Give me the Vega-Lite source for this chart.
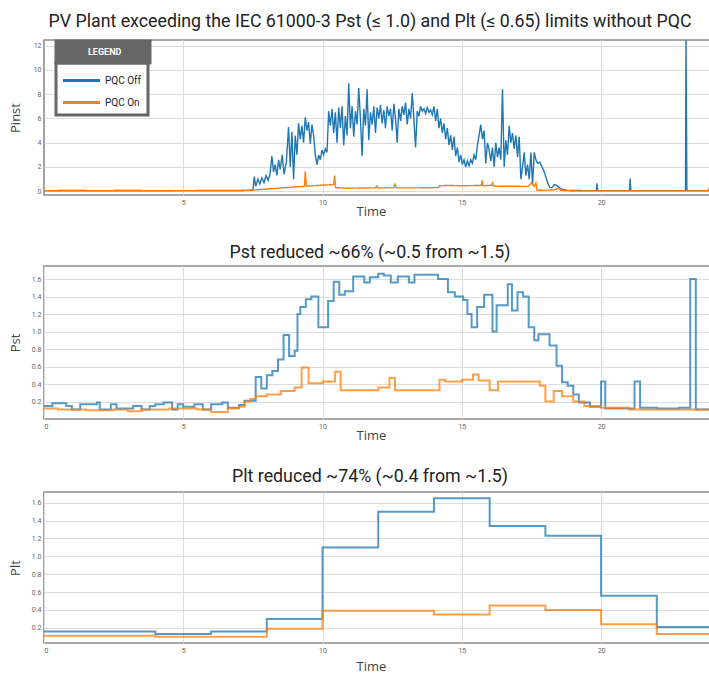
{
  "$schema": "https://vega.github.io/schema/vega-lite/v6.json",
  "padding": {"top": 12, "left": 8, "right": 0, "bottom": 0},
  "background": "white",
  "spacing": 24,
  "config": {
    "view": {"stroke": "#8c8c8c", "strokeWidth": 1.6},
    "axis": {"grid": true, "gridColor": "#dcdcdc", "gridWidth": 1, "domain": false, "ticks": false, "labelFontSize": 7, "labelColor": "#666", "labelFont": "Roboto", "labelPadding": 3, "titleFont": "Open Sans", "titleFontSize": 13, "titleFontWeight": "normal", "titleColor": "#444"},
    "axisX": {"titlePadding": 0, "titleX": 327},
    "axisY": {"titlePadding": 9},
    "title": {"font": "Roboto", "fontSize": 17.8, "fontWeight": "normal", "color": "#222", "offset": 9, "dx": -7},
    "line": {"clip": true}
  },
  "resolve": {"scale": {"color": "independent"}, "legend": {"color": "independent"}},
  "datasets": {
    "pinst": [
      {"t":0,"v":0.05,"s":"PQC Off"},{"t":1,"v":0.06,"s":"PQC Off"},{"t":2,"v":0.05,"s":"PQC Off"},{"t":3,"v":0.06,"s":"PQC Off"},{"t":4,"v":0.05,"s":"PQC Off"},{"t":5,"v":0.05,"s":"PQC Off"},{"t":6,"v":0.06,"s":"PQC Off"},{"t":7,"v":0.06,"s":"PQC Off"},{"t":7.5,"v":0.08,"s":"PQC Off"},
      {"t":7.55,"v":1.2,"s":"PQC Off"},{"t":7.6,"v":0.4,"s":"PQC Off"},{"t":7.68,"v":1.0,"s":"PQC Off"},{"t":7.75,"v":0.6,"s":"PQC Off"},{"t":7.82,"v":1.1,"s":"PQC Off"},{"t":7.9,"v":0.7,"s":"PQC Off"},{"t":7.97,"v":1.3,"s":"PQC Off"},{"t":8.05,"v":0.9,"s":"PQC Off"},{"t":8.12,"v":1.5,"s":"PQC Off"},{"t":8.18,"v":2.9,"s":"PQC Off"},{"t":8.24,"v":1.6,"s":"PQC Off"},{"t":8.3,"v":2.2,"s":"PQC Off"},{"t":8.36,"v":1.3,"s":"PQC Off"},{"t":8.42,"v":2.6,"s":"PQC Off"},{"t":8.48,"v":1.8,"s":"PQC Off"},{"t":8.55,"v":3.0,"s":"PQC Off"},{"t":8.62,"v":1.4,"s":"PQC Off"},{"t":8.7,"v":2.4,"s":"PQC Off"},{"t":8.78,"v":5.3,"s":"PQC Off"},{"t":8.84,"v":2.0,"s":"PQC Off"},{"t":8.9,"v":4.9,"s":"PQC Off"},{"t":8.96,"v":1.0,"s":"PQC Off"},{"t":9.02,"v":4.6,"s":"PQC Off"},{"t":9.08,"v":3.0,"s":"PQC Off"},{"t":9.14,"v":5.6,"s":"PQC Off"},{"t":9.2,"v":4.3,"s":"PQC Off"},{"t":9.26,"v":5.4,"s":"PQC Off"},{"t":9.32,"v":4.0,"s":"PQC Off"},{"t":9.38,"v":6.1,"s":"PQC Off"},{"t":9.44,"v":5.0,"s":"PQC Off"},{"t":9.5,"v":5.7,"s":"PQC Off"},{"t":9.56,"v":3.9,"s":"PQC Off"},{"t":9.62,"v":5.5,"s":"PQC Off"},{"t":9.68,"v":4.6,"s":"PQC Off"},{"t":9.74,"v":3.0,"s":"PQC Off"},{"t":9.8,"v":2.2,"s":"PQC Off"},{"t":9.86,"v":3.0,"s":"PQC Off"},{"t":9.92,"v":2.6,"s":"PQC Off"},{"t":9.98,"v":3.4,"s":"PQC Off"},{"t":10.04,"v":3.0,"s":"PQC Off"},{"t":10.1,"v":3.5,"s":"PQC Off"},{"t":10.16,"v":3.2,"s":"PQC Off"},{"t":10.22,"v":6.6,"s":"PQC Off"},{"t":10.28,"v":5.4,"s":"PQC Off"},{"t":10.34,"v":6.8,"s":"PQC Off"},{"t":10.4,"v":4.8,"s":"PQC Off"},{"t":10.46,"v":6.5,"s":"PQC Off"},{"t":10.52,"v":4.0,"s":"PQC Off"},{"t":10.58,"v":6.9,"s":"PQC Off"},{"t":10.64,"v":5.2,"s":"PQC Off"},{"t":10.7,"v":7.0,"s":"PQC Off"},{"t":10.76,"v":3.8,"s":"PQC Off"},{"t":10.82,"v":6.2,"s":"PQC Off"},{"t":10.88,"v":4.6,"s":"PQC Off"},{"t":10.94,"v":8.9,"s":"PQC Off"},{"t":11.0,"v":5.2,"s":"PQC Off"},{"t":11.06,"v":7.0,"s":"PQC Off"},{"t":11.12,"v":4.5,"s":"PQC Off"},{"t":11.18,"v":6.6,"s":"PQC Off"},{"t":11.24,"v":5.5,"s":"PQC Off"},{"t":11.3,"v":8.5,"s":"PQC Off"},{"t":11.36,"v":6.0,"s":"PQC Off"},{"t":11.42,"v":2.9,"s":"PQC Off"},{"t":11.48,"v":6.8,"s":"PQC Off"},{"t":11.54,"v":5.4,"s":"PQC Off"},{"t":11.6,"v":8.4,"s":"PQC Off"},{"t":11.66,"v":4.2,"s":"PQC Off"},{"t":11.72,"v":6.5,"s":"PQC Off"},{"t":11.78,"v":5.5,"s":"PQC Off"},{"t":11.84,"v":7.0,"s":"PQC Off"},{"t":11.9,"v":4.8,"s":"PQC Off"},{"t":11.96,"v":6.9,"s":"PQC Off"},{"t":12.02,"v":6.0,"s":"PQC Off"},{"t":12.08,"v":7.1,"s":"PQC Off"},{"t":12.14,"v":5.6,"s":"PQC Off"},{"t":12.2,"v":6.7,"s":"PQC Off"},{"t":12.26,"v":5.2,"s":"PQC Off"},{"t":12.32,"v":7.0,"s":"PQC Off"},{"t":12.38,"v":6.2,"s":"PQC Off"},{"t":12.44,"v":6.8,"s":"PQC Off"},{"t":12.5,"v":5.0,"s":"PQC Off"},{"t":12.56,"v":7.2,"s":"PQC Off"},{"t":12.62,"v":6.0,"s":"PQC Off"},{"t":12.68,"v":4.0,"s":"PQC Off"},{"t":12.74,"v":6.8,"s":"PQC Off"},{"t":12.8,"v":5.8,"s":"PQC Off"},{"t":12.86,"v":7.0,"s":"PQC Off"},{"t":12.92,"v":6.3,"s":"PQC Off"},{"t":12.98,"v":7.3,"s":"PQC Off"},{"t":13.04,"v":5.5,"s":"PQC Off"},{"t":13.1,"v":6.8,"s":"PQC Off"},{"t":13.16,"v":6.0,"s":"PQC Off"},{"t":13.22,"v":8.1,"s":"PQC Off"},{"t":13.28,"v":5.9,"s":"PQC Off"},{"t":13.34,"v":3.6,"s":"PQC Off"},{"t":13.4,"v":6.6,"s":"PQC Off"},{"t":13.46,"v":6.2,"s":"PQC Off"},{"t":13.52,"v":7.0,"s":"PQC Off"},{"t":13.58,"v":6.6,"s":"PQC Off"},{"t":13.64,"v":6.8,"s":"PQC Off"},{"t":13.7,"v":6.4,"s":"PQC Off"},{"t":13.76,"v":6.9,"s":"PQC Off"},{"t":13.82,"v":6.5,"s":"PQC Off"},{"t":13.88,"v":6.7,"s":"PQC Off"},{"t":13.94,"v":6.3,"s":"PQC Off"},{"t":14.0,"v":7.0,"s":"PQC Off"},{"t":14.06,"v":5.8,"s":"PQC Off"},{"t":14.12,"v":6.8,"s":"PQC Off"},{"t":14.18,"v":5.2,"s":"PQC Off"},{"t":14.24,"v":6.0,"s":"PQC Off"},{"t":14.3,"v":4.8,"s":"PQC Off"},{"t":14.36,"v":5.6,"s":"PQC Off"},{"t":14.42,"v":4.3,"s":"PQC Off"},{"t":14.48,"v":5.2,"s":"PQC Off"},{"t":14.54,"v":3.8,"s":"PQC Off"},{"t":14.6,"v":4.6,"s":"PQC Off"},{"t":14.66,"v":3.4,"s":"PQC Off"},{"t":14.72,"v":4.5,"s":"PQC Off"},{"t":14.78,"v":2.9,"s":"PQC Off"},{"t":14.84,"v":3.6,"s":"PQC Off"},{"t":14.9,"v":2.4,"s":"PQC Off"},{"t":14.96,"v":3.0,"s":"PQC Off"},{"t":15.02,"v":2.2,"s":"PQC Off"},{"t":15.08,"v":2.6,"s":"PQC Off"},{"t":15.14,"v":2.0,"s":"PQC Off"},{"t":15.2,"v":2.5,"s":"PQC Off"},{"t":15.26,"v":2.1,"s":"PQC Off"},{"t":15.32,"v":2.6,"s":"PQC Off"},{"t":15.38,"v":2.3,"s":"PQC Off"},{"t":15.44,"v":3.0,"s":"PQC Off"},{"t":15.5,"v":2.6,"s":"PQC Off"},{"t":15.56,"v":3.8,"s":"PQC Off"},{"t":15.62,"v":4.6,"s":"PQC Off"},{"t":15.68,"v":5.5,"s":"PQC Off"},{"t":15.74,"v":4.3,"s":"PQC Off"},{"t":15.8,"v":5.0,"s":"PQC Off"},{"t":15.86,"v":2.3,"s":"PQC Off"},{"t":15.92,"v":4.0,"s":"PQC Off"},{"t":15.98,"v":3.4,"s":"PQC Off"},{"t":16.04,"v":2.5,"s":"PQC Off"},{"t":16.1,"v":3.6,"s":"PQC Off"},{"t":16.16,"v":2.0,"s":"PQC Off"},{"t":16.22,"v":4.0,"s":"PQC Off"},{"t":16.28,"v":2.8,"s":"PQC Off"},{"t":16.34,"v":3.6,"s":"PQC Off"},{"t":16.4,"v":2.6,"s":"PQC Off"},{"t":16.46,"v":8.4,"s":"PQC Off"},{"t":16.52,"v":2.0,"s":"PQC Off"},{"t":16.58,"v":4.2,"s":"PQC Off"},{"t":16.64,"v":3.0,"s":"PQC Off"},{"t":16.7,"v":5.4,"s":"PQC Off"},{"t":16.76,"v":4.0,"s":"PQC Off"},{"t":16.82,"v":4.8,"s":"PQC Off"},{"t":16.88,"v":3.5,"s":"PQC Off"},{"t":16.94,"v":4.6,"s":"PQC Off"},{"t":17.0,"v":2.8,"s":"PQC Off"},{"t":17.06,"v":4.5,"s":"PQC Off"},{"t":17.12,"v":1.0,"s":"PQC Off"},{"t":17.18,"v":2.0,"s":"PQC Off"},{"t":17.24,"v":3.2,"s":"PQC Off"},{"t":17.3,"v":1.3,"s":"PQC Off"},{"t":17.36,"v":2.2,"s":"PQC Off"},{"t":17.42,"v":1.0,"s":"PQC Off"},{"t":17.48,"v":3.2,"s":"PQC Off"},{"t":17.54,"v":0.5,"s":"PQC Off"},{"t":17.6,"v":3.2,"s":"PQC Off"},{"t":17.66,"v":2.6,"s":"PQC Off"},{"t":17.72,"v":2.3,"s":"PQC Off"},{"t":17.8,"v":2.4,"s":"PQC Off"},{"t":17.88,"v":2.0,"s":"PQC Off"},{"t":17.96,"v":1.6,"s":"PQC Off"},{"t":18.04,"v":1.0,"s":"PQC Off"},{"t":18.1,"v":0.6,"s":"PQC Off"},{"t":18.16,"v":0.3,"s":"PQC Off"},{"t":18.24,"v":0.3,"s":"PQC Off"},{"t":18.32,"v":0.55,"s":"PQC Off"},{"t":18.4,"v":0.5,"s":"PQC Off"},{"t":18.5,"v":0.3,"s":"PQC Off"},{"t":18.6,"v":0.15,"s":"PQC Off"},{"t":18.8,"v":0.07,"s":"PQC Off"},{"t":19.5,"v":0.05,"s":"PQC Off"},{"t":19.83,"v":0.05,"s":"PQC Off"},{"t":19.85,"v":0.65,"s":"PQC Off"},{"t":19.88,"v":0.05,"s":"PQC Off"},{"t":21.02,"v":0.05,"s":"PQC Off"},{"t":21.04,"v":1.05,"s":"PQC Off"},{"t":21.07,"v":0.05,"s":"PQC Off"},{"t":23.03,"v":0.05,"s":"PQC Off"},{"t":23.05,"v":12.6,"s":"PQC Off"},{"t":23.08,"v":0.05,"s":"PQC Off"},{"t":23.85,"v":0.05,"s":"PQC Off"},{"t":23.9,"v":0.35,"s":"PQC Off"},{"t":24,"v":0.05,"s":"PQC Off"},
      {"t":0,"v":0.04,"s":"PQC On"},{"t":7.0,"v":0.05,"s":"PQC On"},{"t":7.5,"v":0.1,"s":"PQC On"},{"t":8.0,"v":0.18,"s":"PQC On"},{"t":8.5,"v":0.27,"s":"PQC On"},{"t":9.0,"v":0.35,"s":"PQC On"},{"t":9.35,"v":0.4,"s":"PQC On"},{"t":9.38,"v":1.65,"s":"PQC On"},{"t":9.42,"v":0.42,"s":"PQC On"},{"t":10.0,"v":0.5,"s":"PQC On"},{"t":10.4,"v":0.55,"s":"PQC On"},{"t":10.43,"v":1.3,"s":"PQC On"},{"t":10.47,"v":0.3,"s":"PQC On"},{"t":10.9,"v":0.25,"s":"PQC On"},{"t":11.9,"v":0.28,"s":"PQC On"},{"t":11.95,"v":0.45,"s":"PQC On"},{"t":12.0,"v":0.27,"s":"PQC On"},{"t":12.55,"v":0.3,"s":"PQC On"},{"t":12.6,"v":0.6,"s":"PQC On"},{"t":12.65,"v":0.28,"s":"PQC On"},{"t":13.5,"v":0.28,"s":"PQC On"},{"t":14.15,"v":0.3,"s":"PQC On"},{"t":14.2,"v":0.45,"s":"PQC On"},{"t":14.5,"v":0.48,"s":"PQC On"},{"t":15.0,"v":0.45,"s":"PQC On"},{"t":15.7,"v":0.48,"s":"PQC On"},{"t":15.73,"v":0.9,"s":"PQC On"},{"t":15.76,"v":0.45,"s":"PQC On"},{"t":16.08,"v":0.5,"s":"PQC On"},{"t":16.1,"v":0.75,"s":"PQC On"},{"t":16.13,"v":0.42,"s":"PQC On"},{"t":17.4,"v":0.4,"s":"PQC On"},{"t":17.5,"v":0.7,"s":"PQC On"},{"t":17.6,"v":0.4,"s":"PQC On"},{"t":17.66,"v":0.7,"s":"PQC On"},{"t":17.7,"v":0.08,"s":"PQC On"},{"t":18.3,"v":0.1,"s":"PQC On"},{"t":18.45,"v":0.25,"s":"PQC On"},{"t":18.55,"v":0.08,"s":"PQC On"},{"t":19,"v":0.03,"s":"PQC On"},{"t":24,"v":0.03,"s":"PQC On"}
    ],
    "pst": [
      {"t":0,"v":0.15,"s":"PQC Off"},{"t":0.3,"v":0.18,"s":"PQC Off"},{"t":0.8,"v":0.15,"s":"PQC Off"},{"t":1.0,"v":0.11,"s":"PQC Off"},{"t":1.3,"v":0.17,"s":"PQC Off"},{"t":1.9,"v":0.19,"s":"PQC Off"},{"t":2.0,"v":0.11,"s":"PQC Off"},{"t":2.4,"v":0.17,"s":"PQC Off"},{"t":2.6,"v":0.12,"s":"PQC Off"},{"t":3.2,"v":0.15,"s":"PQC Off"},{"t":3.5,"v":0.11,"s":"PQC Off"},{"t":3.8,"v":0.15,"s":"PQC Off"},{"t":4.0,"v":0.17,"s":"PQC Off"},{"t":4.3,"v":0.19,"s":"PQC Off"},{"t":4.6,"v":0.11,"s":"PQC Off"},{"t":4.8,"v":0.17,"s":"PQC Off"},{"t":5.0,"v":0.14,"s":"PQC Off"},{"t":5.4,"v":0.17,"s":"PQC Off"},{"t":5.7,"v":0.11,"s":"PQC Off"},{"t":6.0,"v":0.17,"s":"PQC Off"},{"t":6.4,"v":0.19,"s":"PQC Off"},{"t":6.6,"v":0.13,"s":"PQC Off"},{"t":7.0,"v":0.16,"s":"PQC Off"},{"t":7.2,"v":0.21,"s":"PQC Off"},{"t":7.6,"v":0.48,"s":"PQC Off"},{"t":7.8,"v":0.35,"s":"PQC Off"},{"t":8.0,"v":0.5,"s":"PQC Off"},{"t":8.2,"v":0.55,"s":"PQC Off"},{"t":8.4,"v":0.68,"s":"PQC Off"},{"t":8.6,"v":0.96,"s":"PQC Off"},{"t":8.8,"v":0.72,"s":"PQC Off"},{"t":9.0,"v":0.78,"s":"PQC Off"},{"t":9.1,"v":1.2,"s":"PQC Off"},{"t":9.2,"v":1.28,"s":"PQC Off"},{"t":9.4,"v":1.37,"s":"PQC Off"},{"t":9.6,"v":1.4,"s":"PQC Off"},{"t":9.85,"v":1.05,"s":"PQC Off"},{"t":10.2,"v":1.35,"s":"PQC Off"},{"t":10.4,"v":1.57,"s":"PQC Off"},{"t":10.6,"v":1.42,"s":"PQC Off"},{"t":10.8,"v":1.46,"s":"PQC Off"},{"t":11.1,"v":1.63,"s":"PQC Off"},{"t":11.5,"v":1.56,"s":"PQC Off"},{"t":11.7,"v":1.62,"s":"PQC Off"},{"t":12.0,"v":1.66,"s":"PQC Off"},{"t":12.2,"v":1.64,"s":"PQC Off"},{"t":12.45,"v":1.56,"s":"PQC Off"},{"t":12.7,"v":1.63,"s":"PQC Off"},{"t":13.1,"v":1.56,"s":"PQC Off"},{"t":13.3,"v":1.65,"s":"PQC Off"},{"t":14.15,"v":1.6,"s":"PQC Off"},{"t":14.5,"v":1.45,"s":"PQC Off"},{"t":14.75,"v":1.4,"s":"PQC Off"},{"t":15.05,"v":1.36,"s":"PQC Off"},{"t":15.2,"v":1.2,"s":"PQC Off"},{"t":15.35,"v":1.05,"s":"PQC Off"},{"t":15.55,"v":1.28,"s":"PQC Off"},{"t":15.8,"v":1.42,"s":"PQC Off"},{"t":16.1,"v":1.0,"s":"PQC Off"},{"t":16.25,"v":1.3,"s":"PQC Off"},{"t":16.65,"v":1.54,"s":"PQC Off"},{"t":16.8,"v":1.24,"s":"PQC Off"},{"t":17.0,"v":1.45,"s":"PQC Off"},{"t":17.2,"v":1.4,"s":"PQC Off"},{"t":17.4,"v":1.05,"s":"PQC Off"},{"t":17.6,"v":0.9,"s":"PQC Off"},{"t":17.75,"v":0.97,"s":"PQC Off"},{"t":18.15,"v":0.84,"s":"PQC Off"},{"t":18.4,"v":0.61,"s":"PQC Off"},{"t":18.6,"v":0.42,"s":"PQC Off"},{"t":18.8,"v":0.38,"s":"PQC Off"},{"t":19.0,"v":0.28,"s":"PQC Off"},{"t":19.2,"v":0.19,"s":"PQC Off"},{"t":19.6,"v":0.14,"s":"PQC Off"},{"t":20.0,"v":0.43,"s":"PQC Off"},{"t":20.15,"v":0.12,"s":"PQC Off"},{"t":21.2,"v":0.43,"s":"PQC Off"},{"t":21.4,"v":0.13,"s":"PQC Off"},{"t":22.0,"v":0.12,"s":"PQC Off"},{"t":22.8,"v":0.13,"s":"PQC Off"},{"t":23.2,"v":1.6,"s":"PQC Off"},{"t":23.4,"v":0.11,"s":"PQC Off"},{"t":24,"v":0.11,"s":"PQC Off"},
      {"t":0,"v":0.12,"s":"PQC On"},{"t":0.5,"v":0.11,"s":"PQC On"},{"t":1.5,"v":0.1,"s":"PQC On"},{"t":2.5,"v":0.11,"s":"PQC On"},{"t":3.0,"v":0.09,"s":"PQC On"},{"t":3.5,"v":0.11,"s":"PQC On"},{"t":4.5,"v":0.12,"s":"PQC On"},{"t":5.5,"v":0.11,"s":"PQC On"},{"t":6.0,"v":0.08,"s":"PQC On"},{"t":6.6,"v":0.12,"s":"PQC On"},{"t":7.0,"v":0.14,"s":"PQC On"},{"t":7.2,"v":0.2,"s":"PQC On"},{"t":7.4,"v":0.23,"s":"PQC On"},{"t":7.6,"v":0.26,"s":"PQC On"},{"t":8.0,"v":0.28,"s":"PQC On"},{"t":8.5,"v":0.32,"s":"PQC On"},{"t":9.0,"v":0.36,"s":"PQC On"},{"t":9.25,"v":0.59,"s":"PQC On"},{"t":9.5,"v":0.41,"s":"PQC On"},{"t":10.0,"v":0.43,"s":"PQC On"},{"t":10.45,"v":0.54,"s":"PQC On"},{"t":10.65,"v":0.33,"s":"PQC On"},{"t":12.0,"v":0.36,"s":"PQC On"},{"t":12.4,"v":0.47,"s":"PQC On"},{"t":12.6,"v":0.33,"s":"PQC On"},{"t":14.2,"v":0.45,"s":"PQC On"},{"t":14.4,"v":0.43,"s":"PQC On"},{"t":15.0,"v":0.45,"s":"PQC On"},{"t":15.4,"v":0.51,"s":"PQC On"},{"t":15.6,"v":0.44,"s":"PQC On"},{"t":16.0,"v":0.33,"s":"PQC On"},{"t":16.3,"v":0.43,"s":"PQC On"},{"t":17.8,"v":0.38,"s":"PQC On"},{"t":18.0,"v":0.2,"s":"PQC On"},{"t":18.3,"v":0.32,"s":"PQC On"},{"t":18.6,"v":0.26,"s":"PQC On"},{"t":19.0,"v":0.2,"s":"PQC On"},{"t":19.4,"v":0.15,"s":"PQC On"},{"t":20.0,"v":0.13,"s":"PQC On"},{"t":21.0,"v":0.11,"s":"PQC On"},{"t":24,"v":0.11,"s":"PQC On"}
    ],
    "plt": [
      {"t":0,"v":0.16,"s":"PQC Off"},{"t":4,"v":0.13,"s":"PQC Off"},{"t":6,"v":0.16,"s":"PQC Off"},{"t":8,"v":0.3,"s":"PQC Off"},{"t":10,"v":1.1,"s":"PQC Off"},{"t":12,"v":1.5,"s":"PQC Off"},{"t":14,"v":1.65,"s":"PQC Off"},{"t":16,"v":1.34,"s":"PQC Off"},{"t":18,"v":1.23,"s":"PQC Off"},{"t":20,"v":0.56,"s":"PQC Off"},{"t":22,"v":0.21,"s":"PQC Off"},{"t":24,"v":0.21,"s":"PQC Off"},
      {"t":0,"v":0.11,"s":"PQC On"},{"t":4,"v":0.1,"s":"PQC On"},{"t":8,"v":0.19,"s":"PQC On"},{"t":10,"v":0.39,"s":"PQC On"},{"t":14,"v":0.35,"s":"PQC On"},{"t":16,"v":0.45,"s":"PQC On"},{"t":18,"v":0.4,"s":"PQC On"},{"t":20,"v":0.24,"s":"PQC On"},{"t":22,"v":0.13,"s":"PQC On"},{"t":24,"v":0.13,"s":"PQC On"}
    ]
  },
  "vconcat": [
    {
      "title": {"text": "PV Plant exceeding the IEC 61000-3 Pst (≤ 1.0) and Plt (≤ 0.65) limits without PQC"},
      "width": 666, "height": 155,
      "data": {"name": "pinst"},
      "mark": {"type": "line", "strokeWidth": 1.4, "clip": true},
      "encoding": {
        "x": {"field": "t", "type": "quantitative", "scale": {"domain": [0, 23.91], "nice": false, "zero": false}, "axis": {"title": "Time", "values": [5, 10, 15, 20]}},
        "y": {"field": "v", "type": "quantitative", "scale": {"domain": [-0.31, 12.47], "nice": false}, "axis": {"title": "Pinst", "values": [0, 2, 4, 6, 8, 10, 12], "format": "d", "titlePadding": 11}},
        "color": {"field": "s", "type": "nominal", "scale": {"domain": ["PQC Off", "PQC On"], "range": ["#1f77b4", "#ff7f0e"]},
          "legend": {"orient": "none", "legendX": 12, "legendY": 23, "title": null, "fillColor": "#ffffff", "strokeColor": "#666666", "padding": 6, "rowPadding": 4, "symbolType": "M-1.85,0H1.85", "symbolSize": 400, "symbolStrokeWidth": 3, "symbolOffset": 8, "labelOffset": 12, "labelFont": "Roboto", "labelFontSize": 10, "labelColor": "#222", "encode": {"legend": {"update": {"strokeWidth": {"value": 3}}}}}},
        "strokeDash": {"datum": "LEGEND", "type": "nominal", "scale": {"range": [[1, 0]]},
          "legend": {"orient": "none", "legendX": 12, "legendY": 1, "title": "LEGEND", "titleOrient": "right", "titleFontSize": 5.5, "titleFontWeight": "bold", "titleColor": "rgba(0,0,0,0)", "titlePadding": 0, "fillColor": "#666666", "strokeColor": "#666666", "padding": 6, "symbolOpacity": 0, "symbolStrokeWidth": 0, "symbolSize": 1, "labelOffset": 17, "labelFont": "Roboto", "labelFontSize": 9, "labelFontWeight": "bold", "labelColor": "#ffffff", "encode": {"legend": {"update": {"strokeWidth": {"value": 3}}}}}}
      }
    },
    {
      "title": {"text": "Pst reduced ~66% (~0.5 from ~1.5)", "dy": 5},
      "width": 666, "height": 153,
      "data": {"name": "pst"},
      "mark": {"type": "line", "interpolate": "step-after", "strokeWidth": 2, "opacity": 0.75, "clip": true},
      "encoding": {
        "x": {"field": "t", "type": "quantitative", "scale": {"domain": [0, 23.91], "nice": false, "zero": false}, "axis": {"title": "Time", "values": [0, 5, 10, 15, 20]}},
        "y": {"field": "v", "type": "quantitative", "scale": {"domain": [0, 1.75], "nice": false}, "axis": {"title": "Pst", "values": [0.2, 0.4, 0.6, 0.8, 1.0, 1.2, 1.4, 1.6], "format": ".1f"}},
        "color": {"field": "s", "type": "nominal", "scale": {"domain": ["PQC Off", "PQC On"], "range": ["#1f77b4", "#ff7f0e"]}, "legend": null}
      }
    },
    {
      "title": {"text": "Plt reduced ~74% (~0.4 from ~1.5)", "offset": 6},
      "width": 666, "height": 151,
      "data": {"name": "plt"},
      "mark": {"type": "line", "interpolate": "step-after", "strokeWidth": 2, "opacity": 0.75, "clip": true},
      "encoding": {
        "x": {"field": "t", "type": "quantitative", "scale": {"domain": [0, 23.91], "nice": false, "zero": false}, "axis": {"title": "Time", "values": [0, 5, 10, 15, 20], "titlePadding": 7}},
        "y": {"field": "v", "type": "quantitative", "scale": {"domain": [0.03, 1.72], "nice": false}, "axis": {"title": "Plt", "values": [0.2, 0.4, 0.6, 0.8, 1.0, 1.2, 1.4, 1.6], "format": ".1f"}},
        "color": {"field": "s", "type": "nominal", "scale": {"domain": ["PQC Off", "PQC On"], "range": ["#1f77b4", "#ff7f0e"]}, "legend": null}
      }
    }
  ]
}
